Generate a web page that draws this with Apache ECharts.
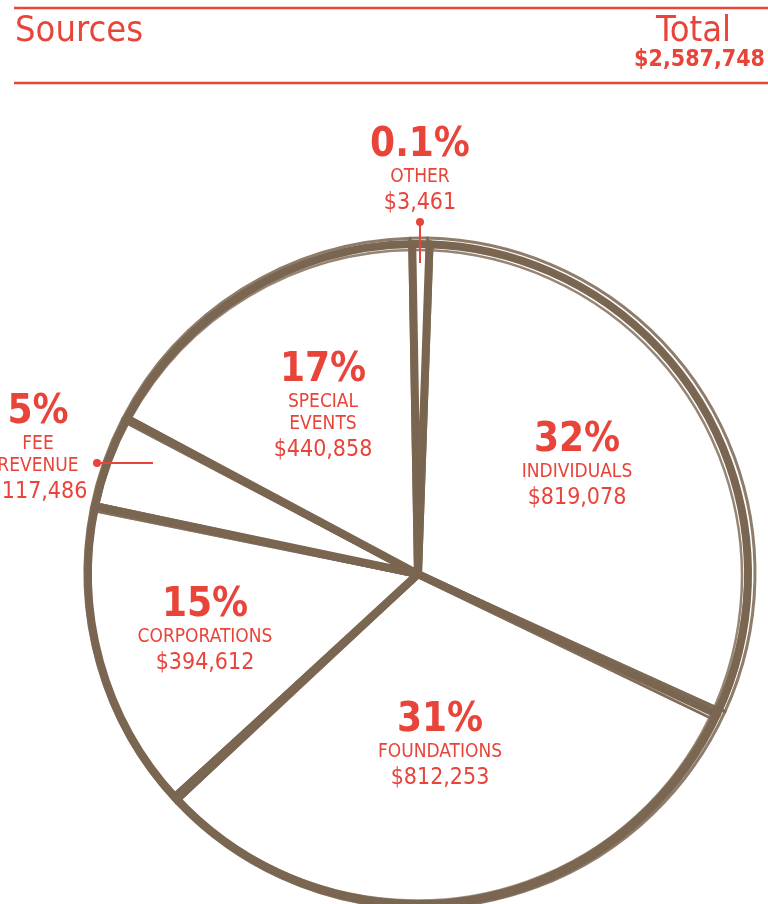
<!DOCTYPE html>
<html>
<head>
<meta charset="utf-8">
<script src="https://cdn.jsdelivr.net/npm/echarts@6/dist/echarts.min.js"></script>
<style>
  html, body { margin: 0; padding: 0; background: #ffffff; }
  #chart { width: 768px; height: 904px; }
</style>
</head>
<body>
<div id="chart"></div>
<script>
// data
const categories = ["Individuals", "Foundations", "Corporations", "Fee Revenue", "Special Events", "Other"]
const labelNames = ["INDIVIDUALS", "FOUNDATIONS", "CORPORATIONS", "FEE\nREVENUE", "SPECIAL\nEVENTS", "OTHER"]
const amounts = [819078, 812253, 394612, 117486, 440858, 3461]
const totalLabel = "$2,587,748"

// layout of the label blocks (centre of each block)
const labelPos = [[577, 467], [440, 747], [205, 632], [38, 450], [323, 408], [420, 172]]

const red = "#e8443a"
const brown = "#7a6651"
const font = "'Liberation Sans Narrow', 'DejaVu Sans Condensed', 'Liberation Sans', sans-serif"
const center = [418, 574]

function money(v) {
  return "$" + v.toLocaleString("en-US")
}

const chart = echarts.init(document.getElementById("chart"), null, { renderer: "canvas" })

const pieData = categories.map((c, i) => ({ name: c, value: amounts[i] }))

// rough pencil-like outlines on top of the main pie
function sketchLayer(r, dx, dy, da, w, op) {
  return {
    type: "pie",
    silent: true,
    radius: r,
    center: [center[0] + dx, center[1] + dy],
    startAngle: 88 + da,
    minAngle: 3,
    clockwise: true,
    label: { show: false },
    labelLine: { show: false },
    itemStyle: { color: "rgba(0,0,0,0)", borderColor: brown, borderWidth: w, opacity: op },
    data: pieData,
    z: 3
  }
}

chart.setOption({
  animation: false,
  graphic: [
    { type: "line", shape: { x1: 14, y1: 8, x2: 768, y2: 8 }, style: { stroke: red, lineWidth: 2.5 } },
    { type: "line", shape: { x1: 14, y1: 83, x2: 768, y2: 83 }, style: { stroke: red, lineWidth: 2.5 } },
    { type: "text", left: 15, top: 14, style: { text: "Sources", fill: red, font: "36px " + font } },
    { type: "text", left: 656, top: 14, style: { text: "Total", fill: red, font: "36px " + font } },
    { type: "text", right: 3, top: 49, style: { text: totalLabel, fill: red, font: "bold 23px " + font } },
    // leader lines for the two small slices
    { type: "line", shape: { x1: 97, y1: 463, x2: 153, y2: 463 }, style: { stroke: red, lineWidth: 2 }, z: 10 },
    { type: "circle", shape: { cx: 97, cy: 463, r: 4 }, style: { fill: red }, z: 10 },
    { type: "line", shape: { x1: 420, y1: 222, x2: 420, y2: 263 }, style: { stroke: red, lineWidth: 2 }, z: 10 },
    { type: "circle", shape: { cx: 420, cy: 222, r: 4 }, style: { fill: red }, z: 10 }
  ],
  series: [
    {
      type: "pie",
      radius: 330,
      center: center,
      startAngle: 88,
      minAngle: 3,
      clockwise: true,
      data: pieData,
      itemStyle: { color: "#ffffff", borderColor: brown, borderWidth: 8 },
      emphasis: { disabled: true },
      labelLine: { show: false },
      label: {
        show: true,
        position: "inside",
        overflow: "none",
        formatter: function (p) {
          const pct = p.percent < 1 ? p.percent.toFixed(1) : Math.round(p.percent)
          const names = labelNames[p.dataIndex].split("\n").map(n => "{n|" + n + "}").join("\n")
          return "{p|" + pct + "%}\n" + names + "\n{v|" + money(p.value) + "}"
        },
        rich: {
          p: { fontFamily: font, fontWeight: "bold", fontSize: 40, lineHeight: 40, color: red, align: "center" },
          n: { fontFamily: font, fontSize: 19, lineHeight: 22, color: red, align: "center" },
          v: { fontFamily: font, fontSize: 23, lineHeight: 30, color: red, align: "center" }
        }
      },
      labelLayout: function (params) {
        const i = params.dataIndex
        return { x: labelPos[i][0], y: labelPos[i][1], align: "center", verticalAlign: "middle" }
      },
      z: 2
    },
    sketchLayer(335, 2, -1, 0.7, 3, 0.85),
    sketchLayer(326, -2, 2, -0.6, 2.5, 0.8),
    sketchLayer(331, 1, 3, 0.4, 2, 0.75),
    sketchLayer(328, -1, -2, -0.3, 1.5, 0.7)
  ]
})
</script>
</body>
</html>
